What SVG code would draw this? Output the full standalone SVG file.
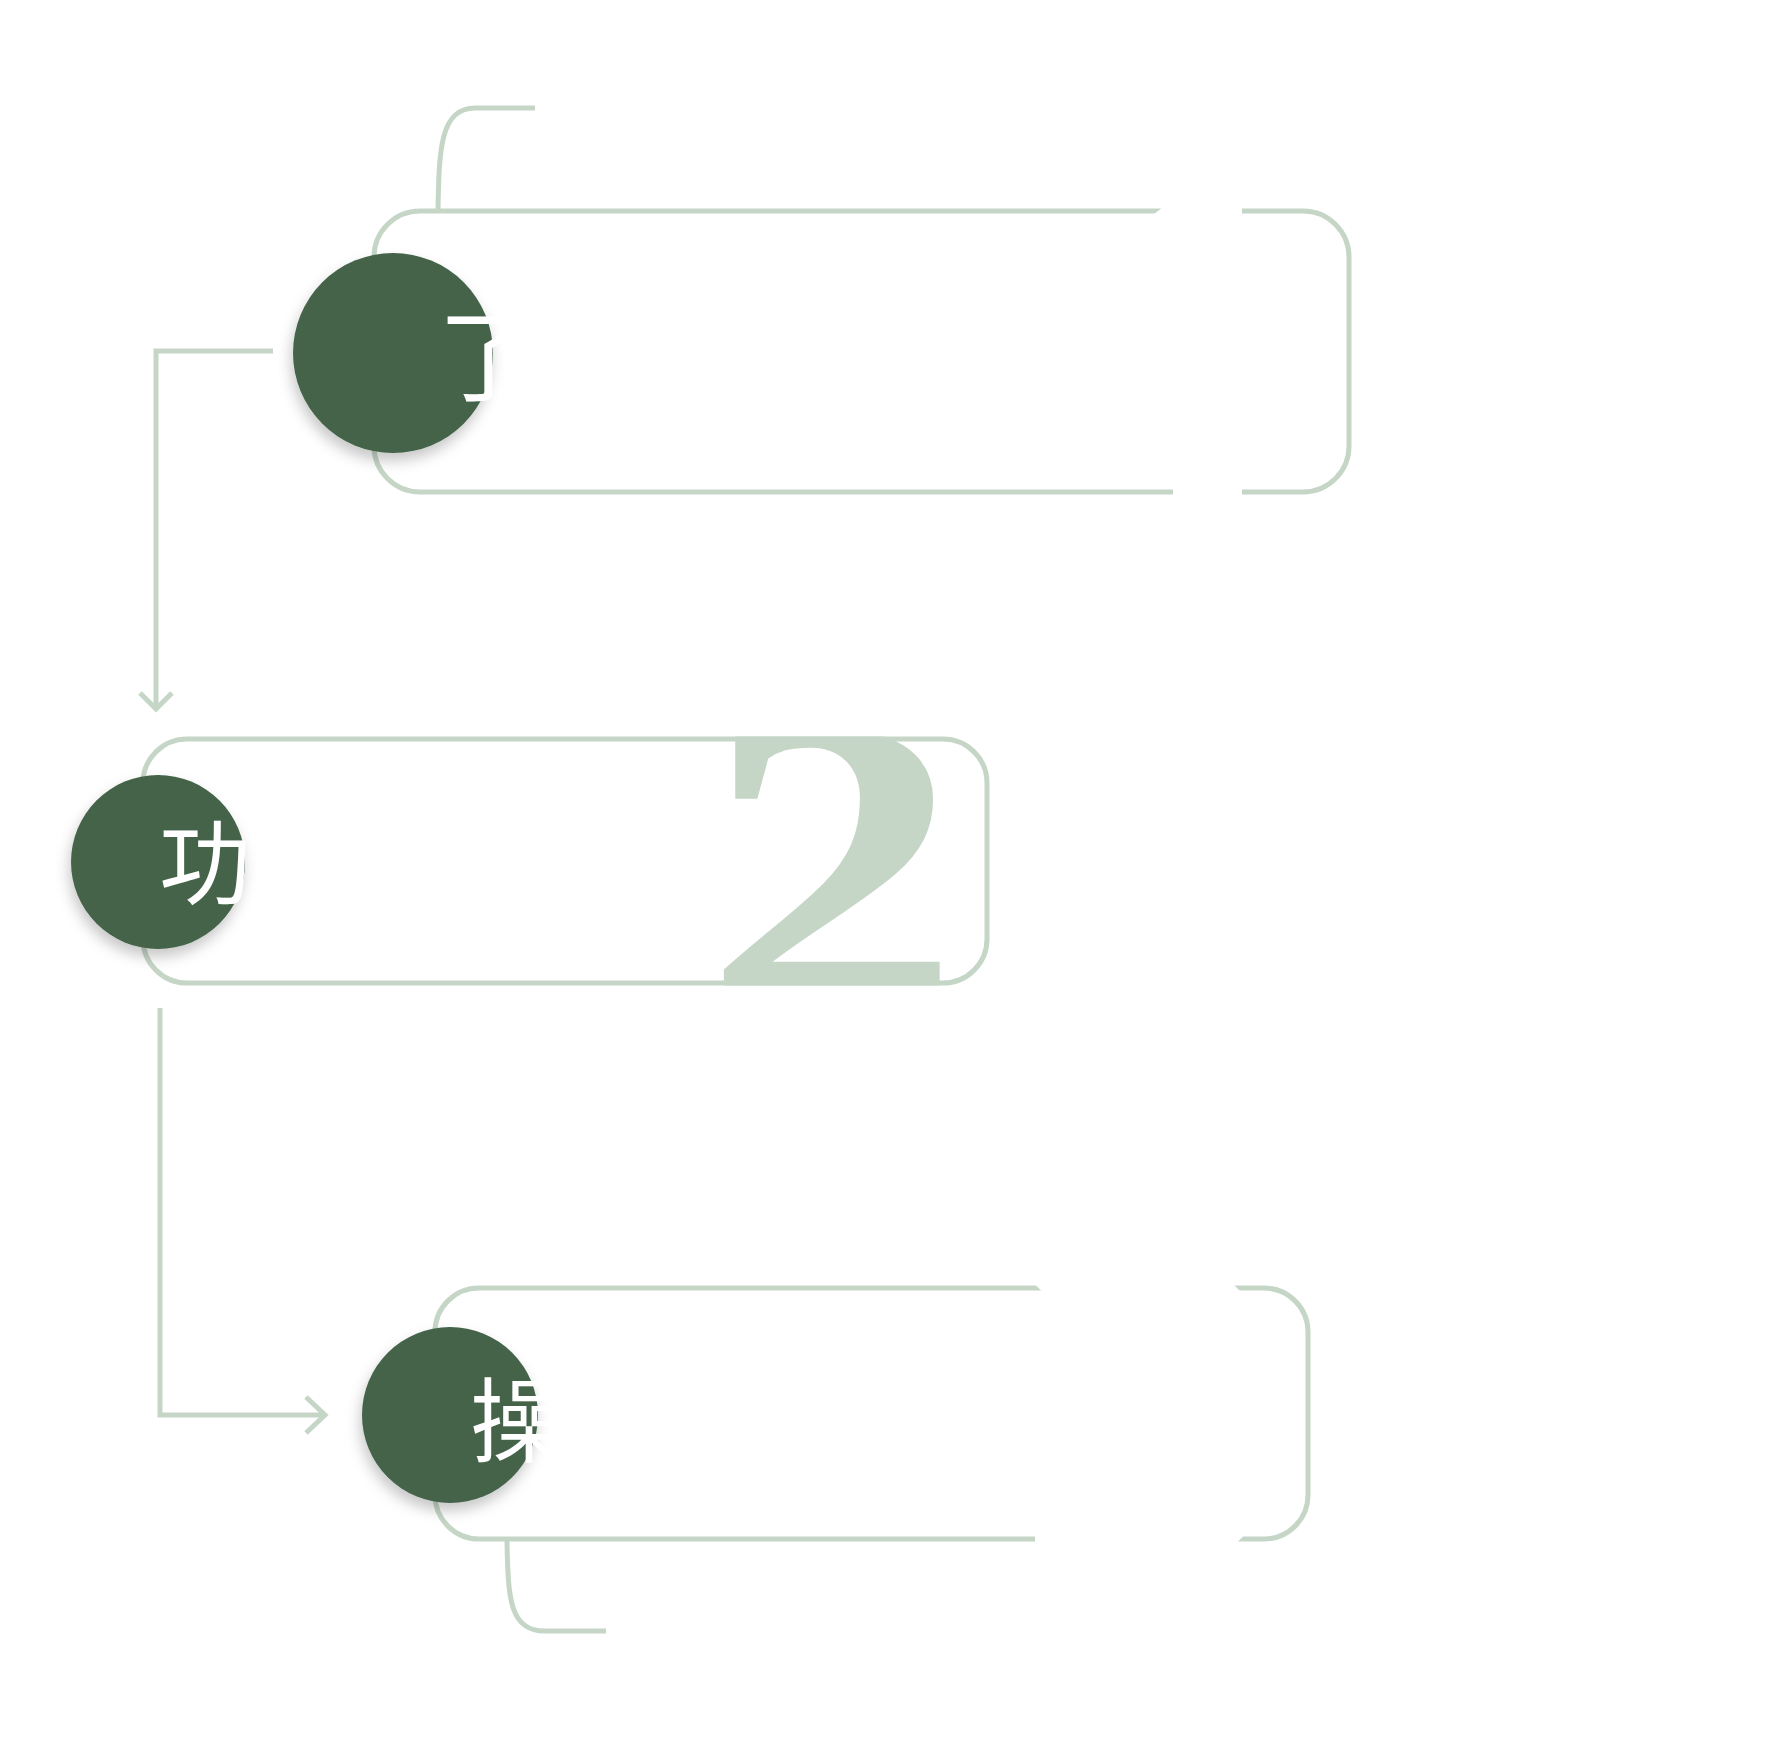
<svg xmlns="http://www.w3.org/2000/svg" width="1767" height="1740" viewBox="0 0 1767 1740">
<style>
.box{fill:none;stroke:#c5d6c7;stroke-width:5}
.conn{fill:none;stroke:#c5d6c7;stroke-width:5}
.gap{fill:#ffffff}
.dot{fill:#44634a;filter:url(#sh)}
.lbl{fill:#ffffff;font-family:"Noto Sans CJK SC","Noto Sans CJK JP",sans-serif}
.num{font-family:"Liberation Serif",serif;font-weight:bold;font-size:520px}
</style>
<defs>
<filter id="sh" x="-30%" y="-30%" width="160%" height="170%">
<feDropShadow dx="-2" dy="8" stdDeviation="7" flood-color="#000" flood-opacity="0.22"/>
</filter>
<clipPath id="c2"><rect x="140.5" y="736.5" width="849" height="249" rx="46"/></clipPath>
</defs>
<rect width="1767" height="1740" fill="#ffffff"/>
<g id="connectors">
<path class="conn" d="M273,351 H156 V708"/>
<path class="conn" d="M140,693 L156,709 L172,693"/>
<path class="conn" d="M160,1008 V1415 H324"/>
<path class="conn" d="M306,1397 L325,1415 L306,1433"/>
<path class="conn" d="M438,211 C439,150 440,108 475,108 L535,108"/>
<path class="conn" d="M507,1541 C508,1600 510,1631 545,1631 L606,1631"/>
</g>
<g id="step1">
<rect class="box" x="374" y="211" width="975" height="281" rx="46"/>
<polygon class="gap" points="1163.5,206.5 1242,206.5 1242,215.5 1152.5,215.5"/>
<rect class="gap" x="1173" y="487.5" width="69" height="9"/>
<circle class="dot" cx="393" cy="353" r="100"/>
<text class="lbl" x="438" y="393" font-size="100">了</text>
</g>
<g id="step2">
<rect class="box" x="143" y="739" width="844" height="244" rx="44"/>
<g clip-path="url(#c2)"><text class="num" x="962" y="1019" text-anchor="end" fill="#c5d6c7" transform="matrix(1 0 0 0.82 0 173.16)">2</text></g>
<circle class="dot" cx="158" cy="862" r="87"/>
<text class="lbl" x="159" y="897" font-size="92">功</text>
</g>
<g id="step3">
<rect class="box" x="435" y="1288" width="873" height="251" rx="44"/>
<polygon class="gap" points="1035,1284.5 1233.5,1284.5 1241.5,1292.5 1043,1292.5"/>
<polygon class="gap" points="1035,1535 1244.5,1535 1236,1543.5 1035,1543.5"/>
<circle class="dot" cx="450" cy="1415" r="88"/>
<text class="lbl" x="470" y="1455" font-size="92">操</text>
</g>
</svg>
